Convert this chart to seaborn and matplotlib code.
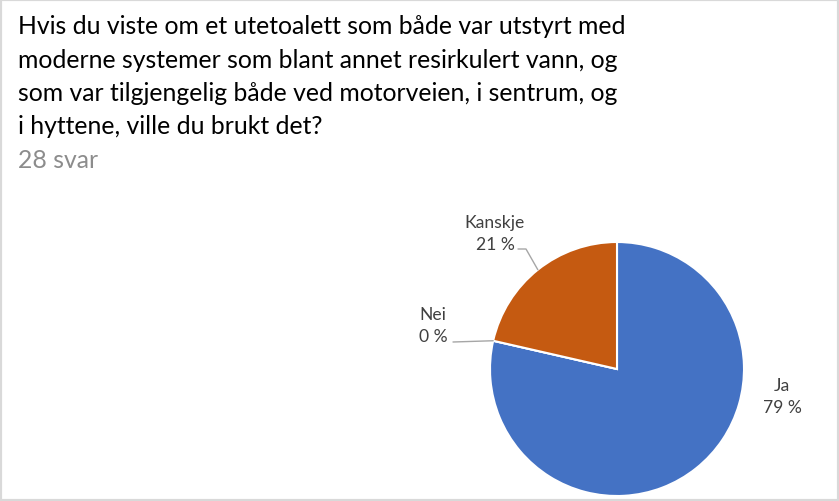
import matplotlib
matplotlib.use("Agg")
import numpy as np
import matplotlib.pyplot as plt
import seaborn as sns
from matplotlib.patches import Rectangle

# data
answers = ["Ja", "Nei", "Kanskje"]
counts = [22, 0, 6]
colors = ["#4472C4", "#A5A5A5", "#C55A11"]
question_lines = [
    "Hvis du viste om et utetoalett som både var utstyrt med",
    "moderne systemer som blant annet resirkulert vann, og",
    "som var tilgjengelig både ved motorveien, i sentrum, og",
    "i hyttene, ville du brukt det?",
]
n_answers = "28 svar"

sns.set_theme(style="white")
plt.rcParams["font.family"] = ["Lato", "DejaVu Sans"]

W, H = 839, 502
fig = plt.figure(figsize=(W / 100, H / 100), dpi=100)
ax = fig.add_axes([0, 0, 1, 1])

# pie, in pixel coordinates (y up)
cx, cy, r = 617, H - 370, 127
wedges, _ = ax.pie(counts, colors=colors, startangle=90, counterclock=False,
                   center=(cx, cy), radius=r, frame=True,
                   wedgeprops=dict(edgecolor="white", linewidth=1.5))
ax.set_xlim(0, W)
ax.set_ylim(0, H)
ax.set_axis_off()

# title text
for i, line in enumerate(question_lines):
    ax.text(18, H - (34 + 33.5 * i), line, fontsize=17.8, color="black",
            va="baseline", ha="left")
ax.text(18, H - (34 + 33.5 * 4), n_answers, fontsize=17.8, color="#8C8C8C",
        va="baseline", ha="left")

# data labels
total = sum(counts)
pcts = [round(100 * c / total) for c in counts]
label_pos = {"Ja": (782, 397), "Kanskje": (495, 234), "Nei": (433, 326)}
line_col = "#A6A6A6"
for w, name, p in zip(wedges, answers, pcts):
    lx, ly = label_pos[name]
    ax.text(lx, H - ly, f"{name}\n{p} %", fontsize=12.6, color="#404040",
            ha="center", va="center", linespacing=1.4)
    mid = np.deg2rad((w.theta1 + w.theta2) / 2)
    ex, ey = cx + r * np.cos(mid), cy + r * np.sin(mid)
    if name == "Kanskje":
        ax.plot([518, 526, ex], [H - 250, H - 250, ey], color=line_col, lw=1)
    elif name == "Nei":
        ax.plot([453, ex], [H - 343, ey], color=line_col, lw=1)

# outer frame
fig.patches.append(Rectangle((0, 0), 1, 1, transform=fig.transFigure,
                             fill=False, edgecolor="#D9D9D9", linewidth=3))

fig.savefig("out.png", dpi=100)
